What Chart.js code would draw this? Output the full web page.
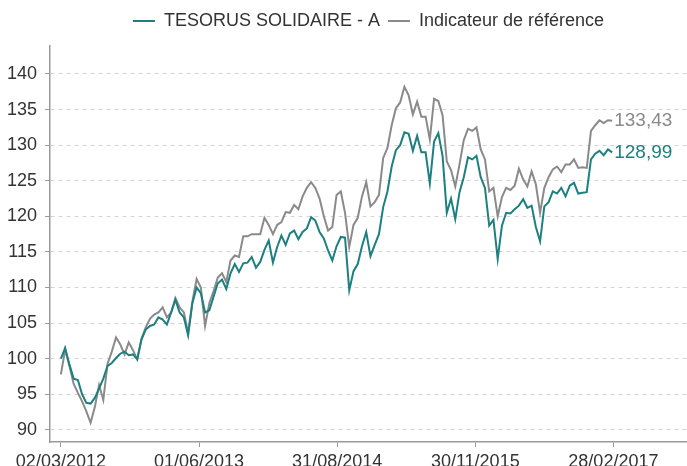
<!DOCTYPE html>
<html>
<head>
<meta charset="utf-8">
<script src="https://cdn.jsdelivr.net/npm/chart.js@4.4.0/dist/chart.umd.min.js"></script>
<style>
  html, body { margin: 0; padding: 0; background: #fff; }
  #wrap { width: 687px; height: 466px; position: relative; }
</style>
</head>
<body>
<div id="wrap"><canvas id="chart"></canvas></div>
<script>
const SERIES_NAMES = ['TESORUS SOLIDAIRE - A', 'Indicateur de référence'];
const START_DATE = '02/03/2012';
const STEP_DAYS = 14; // one point every two weeks
const X_TICK_DATES = ['02/03/2012', '01/06/2013', '31/08/2014', '30/11/2015', '28/02/2017'];
const Y_TICKS = [90, 95, 100, 105, 110, 115, 120, 125, 130, 135, 140];

// fund, base 100
const FUND = [
  100, 101.5, 99.2, 97.2, 97, 95, 93.8, 93.7, 94.5, 95.8,
  97.2, 99, 99.4, 100.1, 100.7, 101, 100.5, 100.6, 99.9, 102.7,
  104.1, 104.6, 104.8, 105.8, 105.5, 104.8, 106.5, 108.3, 106.5, 105.8,
  103.3, 107.8, 110, 109.2, 106.5, 106.8, 108.7, 110.6, 111.1, 109.8,
  112, 113.3, 112.2, 113.4, 113.5, 114.3, 112.8, 113.6, 115.3, 116.6,
  113.5, 115.7, 117.3, 116, 117.6, 118, 116.8, 117.8, 118.3, 119.9,
  119.4, 117.8, 116.9, 115.2, 113.8, 115.8, 117.1, 117, 109.6, 112.3,
  113.3, 115.8, 117.8, 114.4, 116, 117.5, 121.3, 123.5, 127, 129.3,
  130, 131.8, 131.6, 129.2, 131.3, 129, 129, 124.6, 130.5, 131.7,
  128.5, 120.5, 122.5, 119.6, 123.4, 125.5, 128.3, 128, 128.5, 125.5,
  124, 118.7, 119.5, 114, 118.7, 120.5, 120.4, 121, 121.5, 122.4,
  121.2, 121.5, 118.5, 116.5, 121.4, 122, 123.5, 123.2, 124, 122.8,
  124.3, 124.7, 123.2, 123.3, 123.4, 128, 128.8, 129.2, 128.6, 129.4,
  128.99
];

// benchmark, base 100
const BENCH = [
  97.8, 101.3, 99, 96.5, 95.2, 94, 92.6, 91, 93.2, 96.3,
  94.2, 99.3, 101, 103, 102, 100.6, 102.3, 101.2, 99.9, 102.8,
  104.4, 105.6, 106.2, 106.5, 107.2, 105.8, 106.5, 108.5, 107.2, 106.5,
  103.6, 108, 111.2, 110, 104.6, 107.8, 109.5, 111.4, 112, 110.8,
  113.8, 114.5, 114.3, 117.2, 117.2, 117.5, 117.5, 117.5, 119.8, 118.8,
  117.5, 118.8, 119.2, 120.6, 120.5, 121.6, 121, 122.8, 124, 124.8,
  124, 122.5, 120, 118, 118.5, 123, 123.5, 120.5, 115.7, 118.8,
  119.8, 122.8, 124.8, 121.4, 122, 123, 128.2, 129.6, 132.8, 135.2,
  136, 138.2, 137, 134.3, 136.1, 134, 134, 130.8, 136.5, 136.2,
  134.2, 127.7, 126.5, 124.2, 127.3, 130.7, 132.3, 132, 132.5, 129.4,
  128, 123.5, 124, 120, 122.7, 124, 123.7, 124.3, 126.7, 125.2,
  124.2, 126.3, 124.5, 120.5, 124, 125.5, 126.6, 127, 126.2, 127.3,
  127.3, 128, 126.8, 126.9, 126.8, 132, 132.8, 133.5, 133.1, 133.5,
  133.43
];

const TEAL = '#1c7f80';
const GREY = '#8a8a8a';
const FONT = '"Liberation Sans", Arial, sans-serif';

function toDay(s) {
  const [d, m, y] = s.split('/').map(Number);
  const [d0, m0, y0] = START_DATE.split('/').map(Number);
  return Math.round((Date.UTC(y, m - 1, d) - Date.UTC(y0, m0 - 1, d0)) / 86400000);
}
const xTicks = X_TICK_DATES.map(toDay);
const pts = arr => arr.map((v, i) => ({ x: i * STEP_DAYS, y: v }));

// value printed at the end of each line
const endLabels = {
  id: 'endLabels',
  afterDatasetsDraw(chart) {
    const ctx = chart.ctx;
    chart.data.datasets.forEach((ds, i) => {
      const meta = chart.getDatasetMeta(i);
      const last = meta.data[meta.data.length - 1];
      const v = ds.data[ds.data.length - 1].y;
      ctx.save();
      ctx.font = '19px ' + FONT;
      ctx.fillStyle = ds.borderColor;
      ctx.textBaseline = 'middle';
      ctx.fillText(v.toFixed(2).replace('.', ','), last.x + 2, last.y);
      ctx.restore();
    });
  }
};

// a bit more room under the legend
const legendGap = {
  id: 'legendGap',
  beforeInit(chart) {
    const fit = chart.legend.fit;
    chart.legend.fit = function () {
      fit.call(this);
      this.height += 5.5;
    };
  }
};

new Chart(document.getElementById('chart'), {
  type: 'line',
  data: {
    datasets: [
      { label: SERIES_NAMES[0], data: pts(FUND), borderColor: TEAL, backgroundColor: TEAL, borderWidth: 2 },
      { label: SERIES_NAMES[1], data: pts(BENCH), borderColor: GREY, backgroundColor: GREY, borderWidth: 2 }
    ]
  },
  options: {
    responsive: true,
    maintainAspectRatio: false,
    animation: false,
    layout: { padding: { top: 4, left: 0, right: 0, bottom: 0 } },
    elements: { point: { radius: 0 }, line: { tension: 0 } },
    plugins: {
      legend: {
        position: 'top',
        fullSize: false,
        labels: {
          usePointStyle: true,
          pointStyle: 'line',
          pointStyleWidth: 22,
          color: '#333',
          font: { family: FONT, size: 18 },
          padding: 8
        }
      },
      tooltip: { enabled: false }
    },
    scales: {
      x: {
        type: 'linear',
        min: -36,
        max: 2067,
        afterBuildTicks: s => { s.ticks = xTicks.map(v => ({ value: v })); },
        afterFit: s => { s.height = 24; },
        ticks: {
          color: '#333',
          font: { family: FONT, size: 18 },
          padding: 4,
          maxRotation: 0,
          callback: (v, i) => X_TICK_DATES[i]
        },
        grid: { drawOnChartArea: false, drawTicks: true, tickLength: 5, tickColor: '#999' },
        border: { color: '#999', width: 1.5 }
      },
      y: {
        min: 88.3,
        max: 144,
        afterBuildTicks: s => { s.ticks = Y_TICKS.map(v => ({ value: v })); },
        afterFit: s => { s.width = 50; },
        ticks: {
          color: '#333',
          font: { family: FONT, size: 18 },
          padding: 8
        },
        grid: { color: '#d4d4d4', lineWidth: 1, tickLength: 5, tickColor: '#999' },
        border: { color: '#999', width: 1.5, dash: [4, 4] }
      }
    }
  },
  plugins: [endLabels, legendGap]
});
</script>
</body>
</html>
